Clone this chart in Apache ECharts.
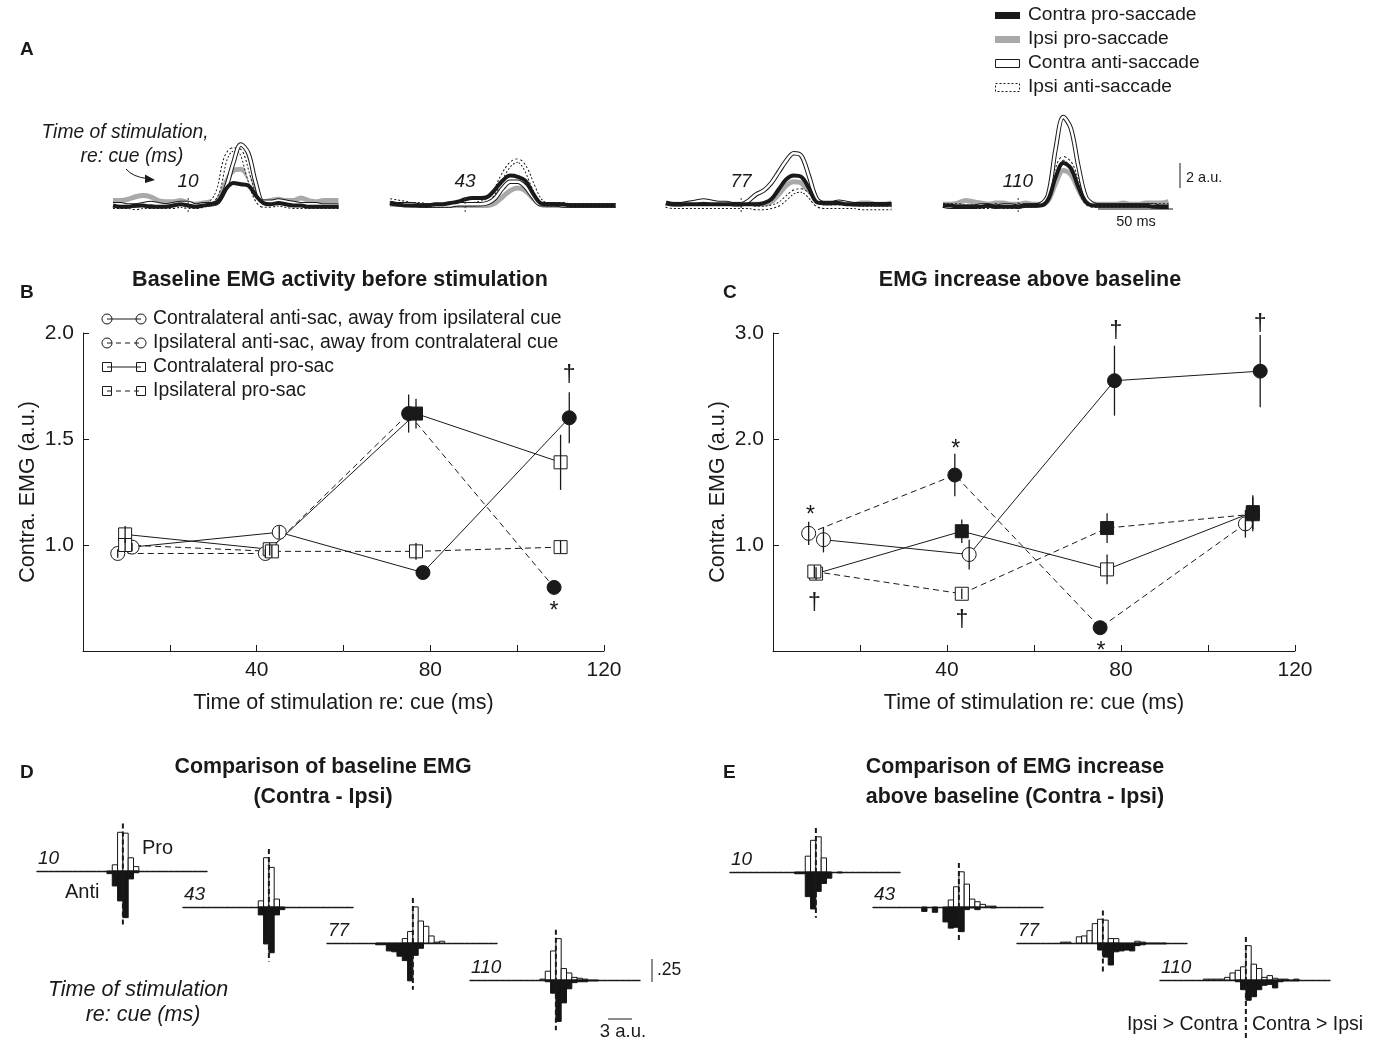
<!DOCTYPE html>
<html><head><meta charset="utf-8">
<script src="https://cdn.jsdelivr.net/npm/echarts/dist/echarts.min.js"></script>
<style>html,body{margin:0;padding:0;background:#fff}#c{width:1375px;height:1041px}</style>
</head><body><div id="c"></div><script>
const FONT = '"Liberation Sans", Arial, Helvetica, sans-serif';
const INK = '#1a1a1a';

// ---------------- Panel A : EMG traces (a.u.) ----------------
const traceTimes = [-50,-45,-40,-35,-30,-25,-20,-15,-10,-5,0,5,10,15,20,25,30,35,40,45,50,55,60,65,70,75,80,85,90,95,100];
const stimLabels = ['10','43','77','110'];
const contraPro10 = [0.6,0.5,0.5,0.6,0.6,0.5,0.5,0.5,0.6,0.7,0.6,0.5,0.6,0.7,0.9,1.9,2.4,2.3,2.2,1.4,0.8,0.7,0.8,0.7,0.6,0.6,0.5,0.5,0.5,0.5,0.5];
const ipsiPro10   = [1.0,1.0,1.1,1.3,1.4,1.3,1.0,0.9,0.9,1.0,0.8,0.7,0.8,0.9,1.1,2.4,3.4,3.5,2.9,1.5,0.9,1.0,1.1,1.0,1.0,1.2,1.0,0.9,1.0,1.0,1.0];
const contraAnti10= [0.7,0.7,0.6,0.6,0.7,0.8,0.7,0.6,0.7,0.8,0.8,0.6,0.7,0.7,0.9,2.0,4.0,5.5,4.8,2.4,0.9,0.9,1.0,0.9,0.8,0.7,0.7,0.7,0.6,0.6,0.6];
const ipsiAnti10  = [0.5,0.5,0.5,0.4,0.5,0.5,0.5,0.5,0.5,0.6,0.5,0.5,0.6,0.8,1.8,4.4,5.1,4.9,3.0,1.2,0.6,0.6,0.7,0.6,0.5,0.5,0.5,0.5,0.5,0.5,0.5];
const contraPro43 = [0.8,0.7,0.6,0.6,0.6,0.6,0.7,0.7,0.8,0.9,1.1,1.2,1.2,1.3,1.9,2.6,3.0,2.9,2.6,1.6,0.8,0.7,0.7,0.7,0.6,0.6,0.6,0.6,0.6,0.6,0.6];
const ipsiPro43   = [0.7,0.7,0.7,0.6,0.6,0.6,0.6,0.6,0.6,0.6,0.6,0.6,0.6,0.6,0.8,1.3,1.8,2.0,1.8,1.2,0.7,0.6,0.6,0.6,0.6,0.6,0.6,0.6,0.6,0.6,0.6];
const contraAnti43= [0.8,0.7,0.7,0.7,0.6,0.6,0.6,0.6,0.6,0.7,0.7,0.7,0.7,0.8,1.2,2.0,2.5,2.5,2.1,1.3,0.7,0.7,0.7,0.6,0.6,0.6,0.6,0.6,0.6,0.6,0.6];
const ipsiAnti43  = [1.0,0.9,0.8,0.7,0.7,0.6,0.6,0.6,0.6,0.7,0.7,0.7,0.8,1.0,1.8,3.0,3.9,4.2,3.6,2.2,1.0,0.7,0.7,0.7,0.6,0.6,0.6,0.6,0.6,0.6,0.6];
const contraPro77 = [0.8,0.7,0.7,0.7,0.7,0.7,0.7,0.7,0.7,0.7,0.7,0.7,0.7,0.8,1.1,1.9,2.7,3.0,2.9,2.0,0.9,0.8,0.8,0.8,0.7,0.7,0.7,0.7,0.7,0.7,0.7];
const ipsiPro77   = [0.8,0.7,0.7,0.8,0.8,0.7,0.7,0.7,0.7,0.7,0.7,0.7,0.7,0.7,0.9,1.5,2.2,2.5,2.4,1.6,0.8,0.7,0.7,0.7,0.7,0.7,0.8,0.8,0.7,0.7,0.8];
const contraAnti77= [0.8,0.7,0.7,0.8,0.9,1.0,0.9,0.8,0.8,0.7,0.7,1.0,1.5,1.8,2.4,3.3,4.2,4.8,4.6,3.0,1.2,0.8,0.8,0.9,0.8,0.7,0.7,0.7,0.7,0.7,0.7];
const ipsiAnti77  = [0.6,0.5,0.5,0.5,0.5,0.5,0.5,0.5,0.5,0.5,0.5,0.5,0.4,0.4,0.5,0.7,1.2,1.7,1.8,1.4,0.7,0.5,0.5,0.5,0.5,0.5,0.4,0.4,0.4,0.4,0.4];
const contraPro110 = [0.6,0.6,0.5,0.5,0.5,0.5,0.6,0.5,0.5,0.5,0.5,0.6,0.6,0.6,1.1,2.9,4.0,3.6,2.1,0.9,0.6,0.6,0.6,0.6,0.6,0.6,0.6,0.6,0.5,0.5,0.5];
const ipsiPro110   = [0.7,0.7,0.8,1.0,0.9,0.8,0.7,0.8,0.8,0.7,0.7,0.8,0.7,0.7,1.0,2.4,3.4,3.1,1.9,0.9,0.7,0.7,0.7,0.7,0.8,0.7,0.7,0.8,0.8,0.8,0.9];
const contraAnti110= [0.6,0.5,0.5,0.5,0.5,0.6,0.6,0.5,0.6,0.6,0.5,0.6,0.6,0.7,1.5,5.2,7.7,6.8,3.8,1.3,0.7,0.6,0.6,0.6,0.6,0.6,0.6,0.6,0.6,0.5,0.5];
const ipsiAnti110  = [0.6,0.6,0.6,0.5,0.5,0.5,0.5,0.6,0.5,0.5,0.6,0.6,0.6,0.7,1.2,3.2,4.4,3.9,2.3,0.9,0.6,0.6,0.6,0.6,0.6,0.6,0.6,0.6,0.6,0.6,0.6];

// ---------------- Panel B : baseline EMG ----------------
const bContraAntiT = [11.3, 45.2, 78.3, 112];
const bContraAnti = [0.99, 1.06, 0.87, 1.60];
const bContraAntiErr = [0.02, 0.03, 0.02, 0.12];
const bContraAntiFilled = [0, 0, 1, 1];
const bIpsiAntiT = [8, 42, 75, 108.5];
const bIpsiAnti = [0.96, 0.96, 1.62, 0.80];
const bIpsiAntiErr = [0.02, 0.02, 0.09, 0.03];
const bIpsiAntiFilled = [0, 0, 1, 1];
const bContraProT = [9.7, 43, 76.7, 110];
const bContraPro = [1.05, 0.98, 1.62, 1.39];
const bContraProErr = [0.04, 0.03, 0.07, 0.13];
const bContraProFilled = [0, 0, 1, 0];
const bIpsiProT = [9.7, 43.5, 76.7, 110];
const bIpsiPro = [1.00, 0.97, 0.97, 0.99];
const bIpsiProErr = [0.03, 0.03, 0.04, 0.03];
const bIpsiProFilled = [0, 0, 0, 0];
const bNoteT = [112, 108.5];
const bNoteV = [1.80, 0.71];
const bNoteText = ['\u2020', '*'];

// ---------------- Panel C : EMG increase ----------------
const cContraAntiT = [11.6, 45.1, 78.5, 112];
const cContraAnti = [1.05, 0.91, 2.55, 2.64];
const cContraAntiErr = [0.12, 0.14, 0.33, 0.34];
const cContraAntiFilled = [0, 0, 1, 1];
const cIpsiAntiT = [8.2, 41.8, 75.2, 108.6];
const cIpsiAnti = [1.11, 1.66, 0.22, 1.20];
const cIpsiAntiErr = [0.11, 0.20, 0.06, 0.13];
const cIpsiAntiFilled = [0, 1, 1, 0];
const cContraProT = [9.9, 43.4, 76.8, 110.3];
const cContraPro = [0.73, 1.13, 0.77, 1.31];
const cContraProErr = [0.06, 0.11, 0.14, 0.16];
const cContraProFilled = [0, 1, 0, 1];
const cIpsiProT = [9.5, 43.4, 76.8, 110.3];
const cIpsiPro = [0.75, 0.54, 1.16, 1.29];
const cIpsiProErr = [0.06, 0.05, 0.14, 0.16];
const cIpsiProFilled = [0, 0, 1, 1];
const cNoteT = [8.6, 9.5, 42, 43.4, 75.4, 78.8, 112];
const cNoteV = [1.32, 0.45, 1.95, 0.29, 0.04, 3.01, 3.08];
const cNoteText = ['*', '\u2020', '*', '\u2020', '*', '\u2020', '\u2020'];

// ---------------- Panels D, E : histograms (proportion per bin) ----------------
const binIndex = [-8,-7,-6,-5,-4,-3,-2,-1,0,1,2,3,4,5,6,7,8,9,10,11];
const binWidth = 0.6; // a.u.
const dPro10  = [0,0,0,0,0,0,0.07,0.44,0.43,0.15,0.05,0,0,0,0,0,0,0,0,0];
const dAnti10 = [0,0,0,0,0,0.03,0.17,0.34,0.53,0.09,0.02,0,0,0,0,0,0,0,0,0];
const dPro43  = [0,0,0,0,0,0,0.07,0.56,0.45,0.09,0,0,0,0,0,0,0,0,0,0];
const dAnti43 = [0,0,0,0,0,0,0.09,0.42,0.52,0.09,0.03,0,0,0,0,0,0,0,0,0];
const dPro77  = [0,0,0,0,0,0,0.05,0.13,0.41,0.25,0.19,0.08,0.01,0.02,0,0,0,0,0,0];
const dAnti77 = [0,0.02,0.02,0.09,0.10,0.15,0.20,0.43,0.14,0.06,0,0,0,0,0,0,0,0,0,0];
const dPro110  = [0,0,0,0,0,0.01,0.10,0.33,0.47,0.13,0.08,0.03,0.02,0.01,0,0,0,0,0,0];
const dAnti110 = [0,0,0,0,0,0,0.02,0.15,0.47,0.26,0.10,0.03,0.02,0.02,0.01,0.01,0,0,0,0];
const ePro10  = [0,0,0,0,0,0,0.18,0.36,0.40,0.16,0,0,0,0,0,0,0,0,0,0];
const eAnti10 = [0,0,0,0,0.02,0.02,0.28,0.42,0.22,0.13,0.07,0,0.01,0,0,0,0,0,0,0];
const ePro43  = [0,0,0,0,0,0,0.08,0.23,0.40,0.26,0.09,0.06,0.03,0.01,0.01,0,0,0,0,0];
const eAnti43 = [0,0.05,0,0.06,0,0.17,0.24,0.23,0.28,0.03,0.01,0.03,0,0,0.01,0,0,0,0,0];
const ePro77  = [0.01,0.01,0,0.07,0.08,0.14,0.22,0.27,0.26,0.05,0.05,0,0,0,0.02,0.01,0,0,0,0];
const eAnti77 = [0,0,0,0,0,0,0,0.08,0.16,0.25,0.10,0.09,0.08,0.09,0.03,0.02,0.01,0.01,0.01,0.01];
const ePro110  = [0.01,0.01,0.01,0.01,0.03,0.08,0.11,0.15,0.39,0.18,0.13,0.03,0.05,0.02,0.01,0.01,0,0.01,0,0];
const eAnti110 = [0,0,0,0,0,0,0.02,0.11,0.23,0.19,0.11,0.06,0.05,0.09,0.02,0.01,0.01,0.01,0,0];

// ================= build =================
const chart = echarts.init(document.getElementById('c'), null, {renderer: 'canvas'});
const grids = [], xAxes = [], yAxes = [], series = [], graphics = [];

function txt(x, y, text, size, o) {
  o = o || {};
  const align = o.align || 'left', va = o.va || 'middle';
  return {type: 'text', x: x, y: y, silent: true, z: 100,
    style: {text: text, fill: INK, font: [(o.style || 'normal'), (o.weight || 'normal'), size + 'px', FONT].join(' '),
      align: align, verticalAlign: va, textAlign: align, textVerticalAlign: va}};
}
function ln(x1, y1, x2, y2, extra) {
  return {type: 'line', silent: true, z: 100, shape: {x1: x1, y1: y1, x2: x2, y2: y2},
    style: Object.assign({stroke: INK, lineWidth: 1}, extra || {})};
}

// ---- Panel A grids
const traceSets = [
  [contraPro10, ipsiPro10, contraAnti10, ipsiAnti10],
  [contraPro43, ipsiPro43, contraAnti43, ipsiAnti43],
  [contraPro77, ipsiPro77, contraAnti77, ipsiAnti77],
  [contraPro110, ipsiPro110, contraAnti110, ipsiAnti110]
];
const aLefts = [110, 387, 663, 940];
function traceLine(gi, arr, color, width, type, z) {
  return {type: 'line', xAxisIndex: gi, yAxisIndex: gi, silent: true, symbol: 'none', showSymbol: false,
    smooth: 0.35, z: z, data: traceTimes.map((t, i) => [t, arr[i]]),
    lineStyle: {color: color, width: width, type: type || 'solid'}};
}
traceSets.forEach((set, g) => {
  grids.push({left: aLefts[g], top: 107, width: 233, height: 106, outerBoundsMode: 'none', containLabel: false});
  xAxes.push({gridIndex: g, type: 'value', min: -52, max: 103, show: false});
  yAxes.push({gridIndex: g, type: 'value', min: 0, max: 8.5, show: false});
  const [cp, ip, ca, ia] = set;
  series.push(traceLine(g, ip, '#a9a9a9', 5, 'solid', 2));
  series.push(traceLine(g, ia, INK, 4.5, [2, 2], 3));
  series.push(traceLine(g, ia, '#fff', 2.5, 'solid', 4));
  series.push(traceLine(g, ca, INK, 4.5, 'solid', 5));
  series.push(traceLine(g, ca, '#fff', 2.5, 'solid', 6));
  series.push(traceLine(g, cp, INK, 4, 'solid', 7));
  // stimulation tick at t = 0
  series.push({type: 'custom', xAxisIndex: g, yAxisIndex: g, silent: true, z: 8, data: [[0, 0]],
    renderItem: (params, api) => {
      const p = api.coord([0, 0]); const cs = params.coordSys; const yb = cs.y + cs.height;
      return {type: 'line', shape: {x1: p[0], y1: yb - 1, x2: p[0], y2: yb - 17},
        style: {stroke: '#333', lineWidth: 1, lineDash: [2, 2]}};
    }});
  graphics.push(txt(aLefts[g] + 78, 182, stimLabels[g], 19, {style: 'italic', align: 'center'}));
});

// ---- Panels B & C
function sciAxes(gi, yMin, yMax, yInt) {
  xAxes.push({gridIndex: gi, type: 'value', min: 0, max: 120, interval: 20,
    axisLine: {show: true, onZero: false, lineStyle: {color: INK, width: 1}},
    axisTick: {show: true, inside: true, length: 6, lineStyle: {color: INK, width: 1}},
    axisLabel: {color: INK, fontSize: 21, fontFamily: FONT, margin: 9,
      formatter: v => (v > 0 && v % 40 === 0) ? String(v) : ''},
    splitLine: {show: false},
    name: 'Time of stimulation re: cue (ms)', nameLocation: 'middle', nameGap: 41,
    nameTextStyle: {color: INK, fontSize: 21.5, fontFamily: FONT}});
  yAxes.push({gridIndex: gi, type: 'value', min: yMin, max: yMax, interval: yInt,
    axisLine: {show: true, onZero: false, lineStyle: {color: INK, width: 1}},
    axisTick: {show: true, inside: true, length: 6, lineStyle: {color: INK, width: 1}},
    axisLabel: {color: INK, fontSize: 21, fontFamily: FONT, margin: 9,
      formatter: v => (v > yMin + 1e-9) ? v.toFixed(1) : ''},
    splitLine: {show: false},
    name: 'Contra. EMG (a.u.)', nameLocation: 'middle', nameGap: 44,
    nameTextStyle: {color: INK, fontSize: 21.5, fontFamily: FONT}});
}
function condSeries(gi, ts, vs, errs, filled, symbol, dashed) {
  series.push({type: 'line', xAxisIndex: gi, yAxisIndex: gi, silent: true, z: 3,
    symbol: symbol, symbolSize: symbol === 'circle' ? 14 : 13, showSymbol: true,
    lineStyle: {color: INK, width: 1, type: dashed ? [6, 4] : 'solid'},
    itemStyle: {color: '#fff', borderColor: INK, borderWidth: 1},
    data: ts.map((t, i) => ({value: [t, vs[i]],
      itemStyle: {color: filled[i] ? INK : '#fff', borderColor: INK, borderWidth: 1}}))});
  series.push({type: 'custom', xAxisIndex: gi, yAxisIndex: gi, silent: true, z: 4,
    data: ts.map((t, i) => [t, vs[i] - errs[i], vs[i] + errs[i]]),
    encode: {x: 0, y: [1, 2]},
    renderItem: (params, api) => {
      const a = api.coord([api.value(0), api.value(1)]);
      const b = api.coord([api.value(0), api.value(2)]);
      return {type: 'line', shape: {x1: a[0], y1: a[1], x2: b[0], y2: b[1]},
        style: {stroke: INK, lineWidth: 1.3}};
    }});
}
function noteSeries(gi, ts, vs, texts) {
  series.push({type: 'custom', xAxisIndex: gi, yAxisIndex: gi, silent: true, z: 5,
    data: ts.map((t, i) => [t, vs[i]]),
    renderItem: (params, api) => {
      const p = api.coord([api.value(0), api.value(1)]);
      const s = texts[params.dataIndex];
      return {type: 'text', x: p[0], y: p[1] + (s === '*' ? 5 : 0),
        style: {text: s, fill: INK, font: 'normal 23px ' + FONT,
          align: 'center', verticalAlign: 'middle', textAlign: 'center', textVerticalAlign: 'middle'}};
    }});
}
grids.push({left: 83, top: 333, width: 521, height: 318, outerBoundsMode: 'none', containLabel: false}); // 4
sciAxes(4, 0.5, 2.0, 0.5);
condSeries(4, bContraAntiT, bContraAnti, bContraAntiErr, bContraAntiFilled, 'circle', false);
condSeries(4, bIpsiAntiT, bIpsiAnti, bIpsiAntiErr, bIpsiAntiFilled, 'circle', true);
condSeries(4, bContraProT, bContraPro, bContraProErr, bContraProFilled, 'rect', false);
condSeries(4, bIpsiProT, bIpsiPro, bIpsiProErr, bIpsiProFilled, 'rect', true);
noteSeries(4, bNoteT, bNoteV, bNoteText);

grids.push({left: 773, top: 333, width: 522, height: 318, outerBoundsMode: 'none', containLabel: false}); // 5
sciAxes(5, 0, 3.0, 1);
condSeries(5, cContraAntiT, cContraAnti, cContraAntiErr, cContraAntiFilled, 'circle', false);
condSeries(5, cIpsiAntiT, cIpsiAnti, cIpsiAntiErr, cIpsiAntiFilled, 'circle', true);
condSeries(5, cContraProT, cContraPro, cContraProErr, cContraProFilled, 'rect', false);
condSeries(5, cIpsiProT, cIpsiPro, cIpsiProErr, cIpsiProFilled, 'rect', true);
noteSeries(5, cNoteT, cNoteV, cNoteText);

// ---- Panels D & E histograms
const histPro = [dPro10, dPro43, dPro77, dPro110, ePro10, ePro43, ePro77, ePro110];
const histAnti = [dAnti10, dAnti43, dAnti77, dAnti110, eAnti10, eAnti43, eAnti77, eAnti110];
const histLefts = [37, 183, 327, 470, 730, 873, 1017, 1160];
const histBases = [871, 907, 943, 980, 872, 907, 943, 980];
const PXU = 88; // px per proportion unit
histPro.forEach((pro, h) => {
  const gi = 6 + h;
  const anti = histAnti[h];
  const yMax = Math.max.apply(null, pro) + 0.1;
  let yMin = -(Math.max.apply(null, anti) + 0.1);
  if (h === 7) yMin = -0.68;
  grids.push({left: histLefts[h], top: histBases[h] - yMax * PXU, width: 170, height: (yMax - yMin) * PXU,
    outerBoundsMode: 'none', containLabel: false});
  xAxes.push({gridIndex: gi, type: 'value', min: -9.7, max: 9.5,
    axisLine: {show: true, onZero: true, lineStyle: {color: INK, width: 1.4, type: [5, 1]}},
    axisTick: {show: false}, axisLabel: {show: false}, splitLine: {show: false}});
  yAxes.push({gridIndex: gi, type: 'value', min: yMin, max: yMax, show: false, splitLine: {show: false}});
  [[pro, 1], [anti, -1]].forEach(([vals, sign]) => {
    series.push({type: 'custom', xAxisIndex: gi, yAxisIndex: gi, silent: true, z: 3,
      data: binIndex.map((k, i) => [k, vals[i]]).filter(d => d[1] > 0),
      renderItem: (params, api) => {
        const k = api.value(0), v = api.value(1);
        const a = api.coord([k * binWidth, 0]);
        const b = api.coord([(k + 1) * binWidth, sign * v]);
        return {type: 'rect', shape: {x: Math.min(a[0], b[0]), y: Math.min(a[1], b[1]),
          width: Math.abs(b[0] - a[0]), height: Math.abs(b[1] - a[1])},
          style: {fill: sign > 0 ? '#fff' : '#151515', stroke: '#151515', lineWidth: 1}};
      }});
  });
  series.push({type: 'custom', xAxisIndex: gi, yAxisIndex: gi, silent: true, z: 6, data: [[0, 0]],
    renderItem: (params, api) => {
      const p = api.coord([0, 0]); const cs = params.coordSys;
      return {type: 'line', shape: {x1: p[0], y1: cs.y, x2: p[0], y2: cs.y + cs.height},
        style: {stroke: INK, lineWidth: 2, lineDash: [5, 3]}};
    }});
  graphics.push(txt(histLefts[h] + 1, histBases[h] - 3, stimLabels[h % 4], 19, {style: 'italic', va: 'bottom'}));
});

// ---- texts & legends
graphics.push(txt(20, 50, 'A', 19, {weight: 'bold'}));
graphics.push(txt(20, 293, 'B', 19, {weight: 'bold'}));
graphics.push(txt(723, 293, 'C', 19, {weight: 'bold'}));
graphics.push(txt(20, 773, 'D', 19, {weight: 'bold'}));
graphics.push(txt(723, 773, 'E', 19, {weight: 'bold'}));
graphics.push(txt(340, 280, 'Baseline EMG activity before stimulation', 21.5, {weight: 'bold', align: 'center'}));
graphics.push(txt(1030, 280, 'EMG increase above baseline', 21.5, {weight: 'bold', align: 'center'}));
graphics.push(txt(125, 133, 'Time of stimulation,', 19.3, {style: 'italic', align: 'center'}));
graphics.push(txt(132, 157, 're: cue (ms)', 19.3, {style: 'italic', align: 'center'}));
graphics.push({type: 'bezierCurve', silent: true, z: 100,
  shape: {x1: 126, y1: 169, x2: 147, y2: 178.5, cpx1: 133, cpy1: 177},
  style: {stroke: INK, lineWidth: 1, fill: null}});
graphics.push({type: 'polygon', silent: true, z: 100,
  shape: {points: [[155, 180], [145, 174.5], [145, 183]]}, style: {fill: INK}});
// A scale bars
graphics.push(ln(1180, 163, 1180, 188));
graphics.push(txt(1186, 178, '2 a.u.', 14.5));
graphics.push(ln(1098, 209, 1173, 209));
graphics.push(txt(1136, 222, '50 ms', 14.5, {align: 'center'}));
// A legend
graphics.push({type: 'rect', silent: true, z: 100, shape: {x: 995, y: 12, width: 25, height: 7}, style: {fill: INK}});
graphics.push({type: 'rect', silent: true, z: 100, shape: {x: 995, y: 36, width: 25, height: 7}, style: {fill: '#a9a9a9'}});
graphics.push({type: 'rect', silent: true, z: 100, shape: {x: 995.5, y: 59.5, width: 24, height: 8}, style: {fill: '#fff', stroke: INK, lineWidth: 1}});
graphics.push({type: 'rect', silent: true, z: 100, shape: {x: 995.5, y: 83.5, width: 24, height: 8}, style: {fill: '#fff', stroke: INK, lineWidth: 1, lineDash: [2, 2]}});
graphics.push(txt(1028, 15, 'Contra pro-saccade', 19.2));
graphics.push(txt(1028, 39, 'Ipsi pro-saccade', 19.2));
graphics.push(txt(1028, 63, 'Contra anti-saccade', 19.2));
graphics.push(txt(1028, 87, 'Ipsi anti-saccade', 19.2));
// B legend
const legRows = [319, 343, 367, 391];
const legNames = ['Contralateral anti-sac, away from ipsilateral cue', 'Ipsilateral anti-sac, away from contralateral cue',
  'Contralateral pro-sac', 'Ipsilateral pro-sac'];
legRows.forEach((y, i) => {
  graphics.push(ln(107, y, 141, y, i % 2 ? {lineDash: [5, 4]} : {}));
  [107, 141].forEach(x => {
    if (i < 2) graphics.push({type: 'circle', silent: true, z: 100, shape: {cx: x, cy: y, r: 5}, style: {fill: null, stroke: INK, lineWidth: 1}});
    else graphics.push({type: 'rect', silent: true, z: 100, shape: {x: x - 4.5, y: y - 4.5, width: 9, height: 9}, style: {fill: null, stroke: INK, lineWidth: 1}});
  });
  graphics.push(txt(153, y, legNames[i], 19.4));
});
// D / E texts
graphics.push(txt(323, 767, 'Comparison of baseline EMG', 21.4, {weight: 'bold', align: 'center'}));
graphics.push(txt(323, 797, '(Contra - Ipsi)', 21.4, {weight: 'bold', align: 'center'}));
graphics.push(txt(1015, 767, 'Comparison of EMG increase', 21.4, {weight: 'bold', align: 'center'}));
graphics.push(txt(1015, 797, 'above baseline (Contra - Ipsi)', 21.4, {weight: 'bold', align: 'center'}));
graphics.push(txt(142, 848, 'Pro', 20));
graphics.push(txt(65, 892, 'Anti', 20));
graphics.push(txt(138, 990, 'Time of stimulation', 21.5, {style: 'italic', align: 'center'}));
graphics.push(txt(143, 1015, 're: cue (ms)', 21.5, {style: 'italic', align: 'center'}));
graphics.push(ln(652, 959, 652, 982));
graphics.push(txt(657, 970, '.25', 17.5));
graphics.push(ln(608, 1019, 632, 1019));
graphics.push(txt(623, 1032, '3 a.u.', 18.5, {align: 'center'}));
graphics.push(txt(1238, 1025, 'Ipsi > Contra', 19.5, {align: 'right'}));
graphics.push(txt(1252, 1025, 'Contra > Ipsi', 19.5));

chart.setOption({
  animation: false,
  backgroundColor: '#fff',
  textStyle: {fontFamily: FONT},
  grid: grids, xAxis: xAxes, yAxis: yAxes, series: series,
  graphic: {elements: graphics}
});
</script></body></html>
